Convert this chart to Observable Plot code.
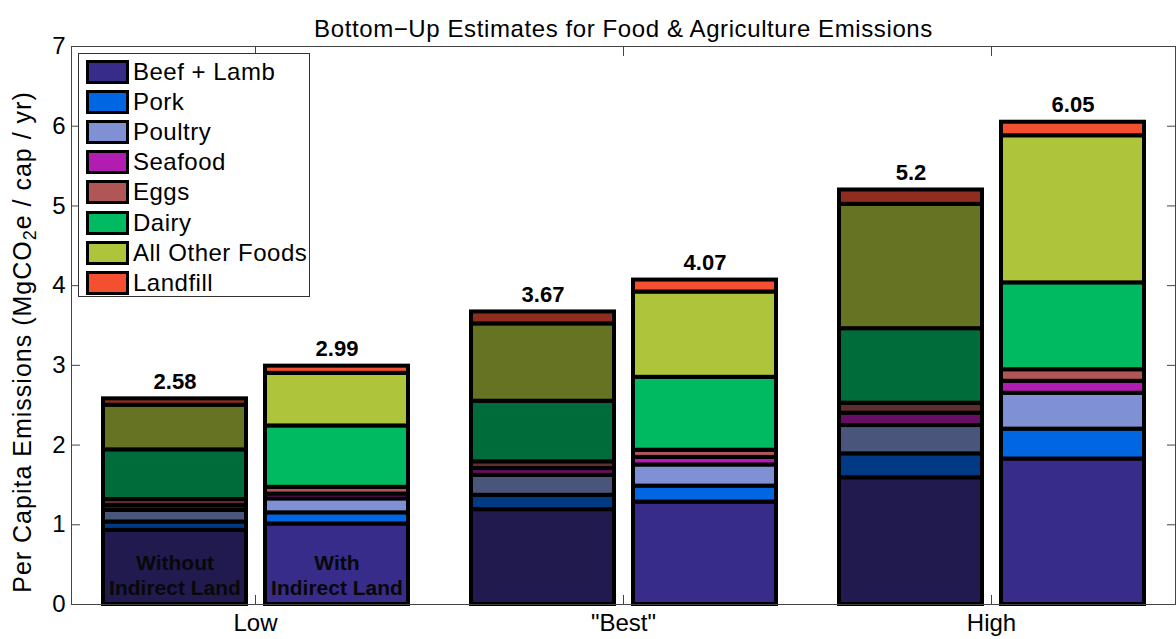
<!DOCTYPE html>
<html>
<head>
<meta charset="utf-8">
<script src="https://cdn.jsdelivr.net/npm/d3@7"></script>
<script src="https://cdn.jsdelivr.net/npm/@observablehq/plot@0.6"></script>
<style>
  html, body { margin: 0; padding: 0; background: #fff; }
  #wrap { position: relative; width: 1176px; height: 639px; font-family: "Liberation Sans", Arial, sans-serif; }
  #ylabel { position: absolute; left: -278px; top: 328px; width: 600px; text-align: center; font-size: 25px; letter-spacing: 1px; transform: rotate(-90deg); color: #000; line-height: 28px; }
  #ylabel sub { font-size: 18px; vertical-align: -5px; line-height: 0; }
  #legend { position: absolute; left: 78px; top: 53px; width: 232px; height: 244px; border: 1px solid #333; background: #fff; box-sizing: border-box; padding-top: 3px; }
  .item { display: flex; align-items: center; height: 30.1px; }
  .sw { width: 43px; height: 24px; box-sizing: border-box; border: 3.5px solid #000; margin-left: 7px; margin-right: 4px; }
  .lab { font-size: 24px; letter-spacing: 0.5px; color: #000; }
</style>
</head>
<body>
<div id="wrap"></div>
<script>
// ---- data ----
const title = "Bottom\u2212Up Estimates for Food & Agriculture Emissions";
const groups = ["Low", "\"Best\"", "High"];
const variants = ["Without Indirect Land", "With Indirect Land"];
const variantLabels = ["Without\nIndirect Land", "With\nIndirect Land"];
const categories = ["Beef + Lamb", "Pork", "Poultry", "Seafood", "Eggs", "Dairy", "All Other Foods", "Landfill"];
// bar order: Low w/o, Low with, Best w/o, Best with, High w/o, High with
const beefLamb      = [0.93, 1.01, 1.19, 1.285, 1.59, 1.825];
const pork          = [0.105, 0.14, 0.18, 0.20, 0.30, 0.375];
const poultry       = [0.145, 0.175, 0.25, 0.265, 0.355, 0.45];
const seafood       = [0.06, 0.06, 0.085, 0.095, 0.155, 0.15];
const eggs          = [0.077, 0.085, 0.085, 0.09, 0.125, 0.145];
const dairy         = [0.623, 0.77, 0.76, 0.915, 0.935, 1.09];
const allOtherFoods = [0.56, 0.66, 0.97, 1.07, 1.56, 1.845];
const landfill      = [0.08, 0.09, 0.15, 0.15, 0.18, 0.17];
const totalLabels   = ["2.58", "2.99", "3.67", "4.07", "5.2", "6.05"];
const brightColors = ["#372c89", "#0066e2", "#8090d5", "#b11cb1", "#b05656", "#00ba62", "#adc43b", "#f34f30"];
const darkColors   = ["#211a4f", "#003a84", "#4a557c", "#660f62", "#5e2e2e", "#006c3a", "#667322", "#902c20"];
const yTicks = [0, 1, 2, 3, 4, 5, 6, 7];

const series = [beefLamb, pork, poultry, seafood, eggs, dairy, allOtherFoods, landfill];

// ---- tables ----
const rows = [];
const totals = [];
groups.forEach((g, gi) => variants.forEach((v, vi) => {
  const bi = gi * 2 + vi;
  let sum = 0;
  categories.forEach((c, ci) => {
    const value = series[ci][bi];
    sum += value;
    rows.push({group: g, variant: v, category: c, value, color: (vi === 0 ? darkColors : brightColors)[ci]});
  });
  totals.push({group: g, variant: v, total: sum, label: totalLabels[bi]});
}));
const innerLabels = variants.map((v, i) => ({group: groups[0], variant: v, y: 0, text: variantLabels[i]}));

const font = "Liberation Sans, Arial, sans-serif";
const tickColor = "#444";
const chart = Plot.plot({
  width: 1176,
  height: 639,
  marginTop: 46,
  marginBottom: 35,
  marginLeft: 71,
  marginRight: 1,
  style: {fontFamily: font, fontSize: "24px", color: "#000", background: "#fff"},
  fx: {domain: groups, paddingInner: 0, paddingOuter: 0, axis: null},
  x: {domain: variants, paddingInner: 0.12, paddingOuter: 0.192, axis: null},
  y: {domain: [0, 7], axis: null},
  color: {type: "identity"},
  marks: [
    Plot.barY(rows, {fx: "group", x: "variant", y: "value", fill: "color", stroke: "#000", strokeWidth: 4}),
    Plot.text(totals, {fx: "group", x: "variant", y: "total", text: "label", dy: -17, fontWeight: "bold", fontSize: 22, fill: "#000"}),
    Plot.text(innerLabels, {fx: "group", x: "variant", y: "y", text: "text", dy: -30, lineHeight: 1.19, fontWeight: "bold", fontSize: 21, fill: "#080808"}),
    Plot.frame({facet: "super", stroke: "#444"}),
    Plot.axisY(yTicks, {anchor: "left", tickSize: 0, tickPadding: 6, tickFormat: d3.format("d"), label: null, fontSize: 24, fill: "#000"}),
    Plot.axisY(yTicks, {anchor: "left", tickSize: 9, dx: 9, tickFormat: () => "", label: null, stroke: tickColor, strokeWidth: 1}),
    Plot.axisY(yTicks, {anchor: "right", tickSize: 9, dx: -9, tickFormat: () => "", label: null, stroke: tickColor, strokeWidth: 1}),
    Plot.axisFx({anchor: "top", tickSize: 9, dy: 9, tickFormat: () => "", label: null, stroke: tickColor, strokeWidth: 1}),
    Plot.axisFx({anchor: "bottom", tickSize: 9, dy: -9, tickFormat: () => "", label: null, stroke: tickColor, strokeWidth: 1}),
    Plot.axisFx({anchor: "bottom", tickSize: 0, tickPadding: 9, label: null, fontSize: 24, fill: "#000"}),
    Plot.text([title], {facet: "super", frameAnchor: "top", text: d => d, dy: -27, fontSize: 24, fill: "#000"})
  ]
});
const wrap = document.getElementById("wrap");
wrap.appendChild(chart);
chart.querySelectorAll("text").forEach(t => { if (t.textContent === title) t.setAttribute("letter-spacing", "0.6"); });

const yl = document.createElement("div");
yl.id = "ylabel";
yl.innerHTML = "Per Capita Emissions (MgCO<sub>2</sub>e / cap / yr)";
wrap.appendChild(yl);

const lg = document.createElement("div");
lg.id = "legend";
categories.forEach((c, i) => {
  const it = document.createElement("div");
  it.className = "item";
  const sw = document.createElement("div");
  sw.className = "sw";
  sw.style.background = brightColors[i];
  const lb = document.createElement("span");
  lb.className = "lab";
  lb.textContent = c;
  it.appendChild(sw); it.appendChild(lb);
  lg.appendChild(it);
});
wrap.appendChild(lg);
</script>
</body>
</html>
